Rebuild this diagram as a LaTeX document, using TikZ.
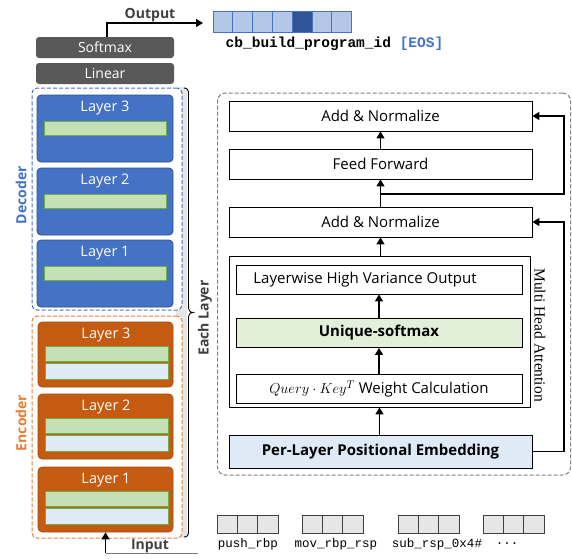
\documentclass[tikz,border=0pt]{standalone}
\usepackage{fontspec}
\setmainfont{Open Sans}
\newfontfamily\monof{Liberation Mono}
\newfontfamily\seriff{Liberation Serif}
\usetikzlibrary{arrows.meta,calc}
\newcommand\myfs[1]{\fontsize{#1}{#1}\selectfont}
\definecolor{dgray}{HTML}{595959}
\definecolor{textgray}{HTML}{404040}
\definecolor{decblue}{HTML}{4472C4}
\definecolor{decborder}{HTML}{2F528F}
\definecolor{encorange}{HTML}{C55A11}
\definecolor{encdash}{HTML}{ED7D31}
\definecolor{bargreen}{HTML}{C5E0B4}
\definecolor{barborder}{HTML}{70AD47}
\definecolor{barblue}{HTML}{DEEBF7}
\definecolor{celllight}{HTML}{B4C7E7}
\definecolor{celldark}{HTML}{2F5597}
\definecolor{tokgray}{HTML}{E7E6E6}
\definecolor{stripgray}{HTML}{E7E6E6}
\definecolor{uniqgreen}{HTML}{E2F0D9}
\definecolor{panelgray}{HTML}{7F7F7F}
\begin{document}
\begin{tikzpicture}[x=1pt,y=-1pt,
  gbox/.style={fill=dgray, rounded corners=3pt, text=white, font=\myfs{14}, inner sep=0, minimum width=138pt, minimum height=21pt},
  declayer/.style={draw=decborder, fill=decblue, rounded corners=4pt, line width=0.8pt, minimum width=136pt, minimum height=67pt, inner sep=0},
  enclayer/.style={draw=encorange!85!black, fill=encorange, rounded corners=4pt, line width=0.6pt, minimum width=135pt, minimum height=65pt, inner sep=0},
  gbar/.style={draw=barborder, fill=bargreen, line width=0.8pt, minimum width=122pt, minimum height=14pt, inner sep=0},
  bbar/.style={draw=barborder, fill=barblue, line width=0.8pt, minimum width=122pt, minimum height=15pt, inner sep=0},
  lbl/.style={text=white, font=\myfs{14.5}, inner sep=0},
  dashbox/.style={dashed, dash pattern=on 4pt off 2pt, line width=1pt, rounded corners=5pt, fill=white, inner sep=0},
  pbox/.style={draw=black, line width=0.8pt, minimum width=303pt, minimum height=30pt, inner sep=0, font=\myfs{15}},
  ibox/.style={pbox, minimum width=286pt, minimum height=29pt},
  arr/.style={-{Triangle[length=7pt,width=8pt]}, line width=1.2pt},
  ocell/.style={draw=decblue, line width=0.8pt, minimum width=19.8pt, minimum height=21pt, inner sep=0},
  tcell/.style={draw=textgray, fill=tokgray, line width=0.8pt, minimum width=20.3pt, minimum height=18pt, inner sep=0},
  toklbl/.style={font=\monof\myfs{12.5}, inner sep=0},
  boldlbl/.style={font=\bfseries\myfs{14}, inner sep=0},
]
\useasboundingbox (0,0) rectangle (572,558);

% ---------- left column ----------
\node[gbox] (softmax) at (105,47.5) {Softmax};
\node[gbox] (linear) at (105,73.5) {Linear};

\foreach \i in {0,...,6}{
  \ifnum\i=4
    \node[ocell, fill=celldark] (oc\i) at ({222.9+19.8*\i},21.5) {};
  \else
    \node[ocell, fill=celllight] (oc\i) at ({222.9+19.8*\i},21.5) {};
  \fi
}
\node[font=\monof\bfseries\myfs{14.5}, inner sep=0] (outtext) at (334.5,44) {cb\_build\_program\_id \textcolor{decblue}{[EOS]}};

\coordinate (outbend) at (107,23);
\coordinate (outtip) at (203,23);
\draw[arr] (outbend |- softmax.north) -- (outbend) -- (outtip);
\node[boldlbl, text=textgray] (outlbl) at (150,15) {Output};

% gray strip behind
\fill[stripgray, rounded corners=3pt] (176,87) rectangle (187,538);

% decoder
\node[dashbox, draw=decblue, minimum width=150pt, minimum height=222pt] (dec) at (107,199) {};
\foreach \n/\t in {3/95,2/168,1/240}{
  \node[declayer] (dl\n) at (105,{\t+33.5}) {};
  \node[lbl] (dlt\n) at (105,{\t+13}) {Layer \n};
  \node[gbar] (dg\n) at (105,{\t+33}) {};
}
\node[boldlbl, rotate=90, text=decblue] (declbl) at (21,195) {Decoder};

% encoder
\node[dashbox, draw=encdash, minimum width=150pt, minimum height=222pt] (enc) at (107,427) {};
\foreach \n/\t in {3/322,2/394,1/467}{
  \node[enclayer] (el\n) at (105.5,{\t+32.5}) {};
  \node[lbl] (elt\n) at (106,{\t+13}) {Layer \n};
  \node[gbar, minimum width=123pt, minimum height=15pt] (eg\n) at (107,{\t+31.5}) {};
  \node[bbar, minimum width=123pt, minimum height=16pt] (eb\n) at (107,{\t+49}) {};
}
\node[boldlbl, rotate=90, text=encdash] (enclbl) at (21,423) {Encoder};

% brace
\draw[line width=0.9pt] (184,88) .. controls (187.5,88) and (188.5,90) .. (188.5,94)
  -- (188.5,306) .. controls (188.5,310) and (189.5,312.5) .. (193,312.5)
  .. controls (189.5,312.5) and (188.5,315) .. (188.5,319)
  -- (188.5,531) .. controls (188.5,535) and (187.5,537) .. (184,537);
\node[boldlbl, rotate=90, text=textgray] (each) at (205,318) {Each Layer};

% input
\coordinate (inbend) at (105.5,553);
\coordinate (inend) at (198,553);
\draw[line width=1pt, textgray!70] (inbend) -- (inend);
\draw[arr] (inbend) -- (inbend |- el1.south);
\node[boldlbl, text=textgray] (inlbl) at (150,546) {Input};

% input tokens
\foreach \g/\x in {1/217,2/302,3/398,4/483}{
  \foreach \k in {0,1,2}{
    \node[tcell] (t\g\k) at ({\x+10.15+20.3*\k},524) {};
  }
}
\node[toklbl] (tl1) at (248,544) {push\_rbp};
\node[toklbl] (tl2) at (336,544) {mov\_rbp\_rsp};
\node[toklbl] (tl3) at (437,544) {sub\_rsp\_0x4\#};
\node[toklbl] (tl4) at (507,544) {...};

% ---------- right panel ----------
\node[dashbox, draw=panelgray, minimum width=353pt, minimum height=382pt, rounded corners=8pt] (panel) at (394,284) {};

\node[pbox] (an1) at (380.5,116) {Add \& Normalize};
\node[pbox] (ff) at (380.5,164) {Feed Forward};
\node[pbox] (an2) at (380.5,222) {Add \& Normalize};

\node[draw=black, line width=0.8pt, minimum width=301pt, minimum height=151pt, inner sep=0] (mha) at (379.5,331.5) {};
\node[ibox] (lhvo) at (379,279.5) {};
\node[font=\myfs{15}, inner sep=0] (lhvotext) at (365,279.5) {Layerwise High Variance Output};
\node[ibox, fill=uniqgreen, font=\bfseries\myfs{15}] (uniq) at (379,333) {Unique-softmax};
\node[ibox] (query) at (379,389) {$Query\cdot Key^{T}$ Weight Calculation};
\node[rotate=-90, font=\seriff\myfs{15.5}, inner sep=0] (mhalbl) at (540,335) {Multi Head Attention};

\node[pbox, fill=barblue, minimum height=33pt, font=\bfseries\myfs{15}] (plpe) at (380.5,451.5) {Per-Layer Positional Embedding};

\draw[arr] (ff.north) -- (an1.south);
\draw[arr] (an2.north) -- (ff.south);
\draw[arr] (an2.south |- mha.north) -- (an2.south);
\draw[arr] (uniq.north) -- (lhvo.south);
\draw[arr] (query.north) -- (uniq.south);
\draw[arr] (plpe.north -| mha.south) -- (mha.south);

\coordinate (rx) at (564,0);
\coordinate (r1) at (380.5,194);
\draw[arr] (r1) -- (r1 -| rx) |- (an1.east);
\draw[arr] (plpe.east) -- (plpe.east -| rx) |- (an2.east);
\end{tikzpicture}
\end{document}
